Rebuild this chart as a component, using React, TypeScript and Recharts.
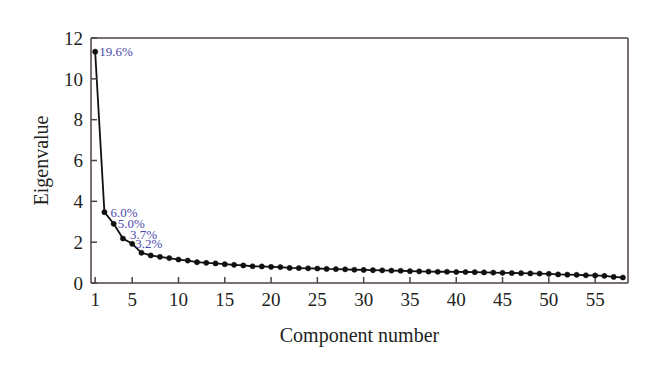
import React from 'react';
import { LineChart, Line, XAxis, YAxis, LabelList } from 'recharts';

// scree plot: eigenvalue per principal component
const components = Array.from({ length: 58 }, (_, i) => i + 1);
const eigenvalues = [
  11.33, 3.47, 2.9, 2.18, 1.92, 1.48, 1.35, 1.28, 1.22, 1.15,
  1.1, 1.02, 0.99, 0.96, 0.92, 0.89, 0.86, 0.82, 0.81, 0.79,
  0.78, 0.74, 0.73, 0.72, 0.71, 0.69, 0.68, 0.67, 0.65, 0.64,
  0.63, 0.62, 0.61, 0.6, 0.58, 0.57, 0.56, 0.55, 0.55, 0.54,
  0.54, 0.53, 0.52, 0.51, 0.5, 0.49, 0.48, 0.47, 0.46, 0.45,
  0.42, 0.41, 0.4, 0.38, 0.37, 0.35, 0.3, 0.27,
];
const varianceLabels = ['19.6%', '6.0%', '5.0%', '3.7%', '3.2%'];
const xTicks = [1, 5, 10, 15, 20, 25, 30, 35, 40, 45, 50, 55];
const yTicks = [0, 2, 4, 6, 8, 10, 12];

const AXIS = '#4d4240';
const LABEL_COLOR = '#4b48ab';
const FONT = '"Liberation Serif", "DejaVu Serif", serif';

const data = components.map((c, i) => ({
  comp: c,
  value: eigenvalues[i],
  pct: varianceLabels[i],
}));

// label offsets so the small percentages sit like the original
const labelOffsets = [
  { dx: 4, dy: 4.5 },
  { dx: 6, dy: 4.5 },
  { dx: 4, dy: 4.5 },
  { dx: 7, dy: 1 },
  { dx: 3, dy: 4 },
];

const PctLabel = (props: any) => {
  const { x, y, value, index } = props;
  if (!value) return null;
  const off = labelOffsets[index] || { dx: 4, dy: 0 };
  return (
    <text x={x + off.dx} y={y + off.dy} fill={LABEL_COLOR} fontSize={13} fontFamily={FONT}>
      {value}
    </text>
  );
};

const tickStyle = { fill: '#231f1e', fontSize: 19, fontFamily: FONT };

const App = () => {
  return (
    <div style={{ position: 'absolute', left: 0, top: 0, width: 660, height: 378, background: '#fff' }}>
      <LineChart width={660} height={378} data={data} margin={{ top: 37, right: 31, bottom: 65, left: 51 }}>
        <XAxis
          xAxisId="bottom"
          dataKey="comp"
          type="number"
          domain={[0.55, 58.55]}
          ticks={xTicks}
          allowDataOverflow
          height={30}
          stroke={AXIS}
          strokeWidth={1.5}
          tickSize={-6}
          tickMargin={16}
          tick={tickStyle}
          label={{ value: 'Component number', position: 'insideBottom', offset: -29, style: { fill: '#231f1e', fontSize: 20, fontFamily: FONT } }}
        />
        <XAxis
          xAxisId="top"
          dataKey="comp"
          type="number"
          orientation="top"
          domain={[0.55, 58.55]}
          ticks={xTicks}
          allowDataOverflow
          height={1}
          stroke={AXIS}
          strokeWidth={1.5}
          tickSize={-6}
          tick={false}
        />
        <YAxis
          yAxisId="left"
          type="number"
          domain={[0, 12]}
          ticks={yTicks}
          width={40}
          stroke={AXIS}
          strokeWidth={1.5}
          tickSize={-6}
          tickMargin={14}
          tick={tickStyle}
          label={{ value: 'Eigenvalue', angle: -90, position: 'insideLeft', offset: -10, style: { textAnchor: 'middle', fill: '#231f1e', fontSize: 20, fontFamily: FONT } }}
        />
        <YAxis
          yAxisId="right"
          type="number"
          orientation="right"
          domain={[0, 12]}
          ticks={yTicks}
          width={1}
          stroke={AXIS}
          strokeWidth={1.5}
          tickSize={-6}
          tick={false}
        />
        <Line
          xAxisId="bottom"
          yAxisId="left"
          dataKey="value"
          stroke="#111"
          strokeWidth={1.8}
          dot={{ r: 2.6, fill: '#111', stroke: '#111', strokeWidth: 0.5 }}
          isAnimationActive={false}
        >
          <LabelList dataKey="pct" content={PctLabel} />
        </Line>
      </LineChart>
    </div>
  );
};

export default App;
